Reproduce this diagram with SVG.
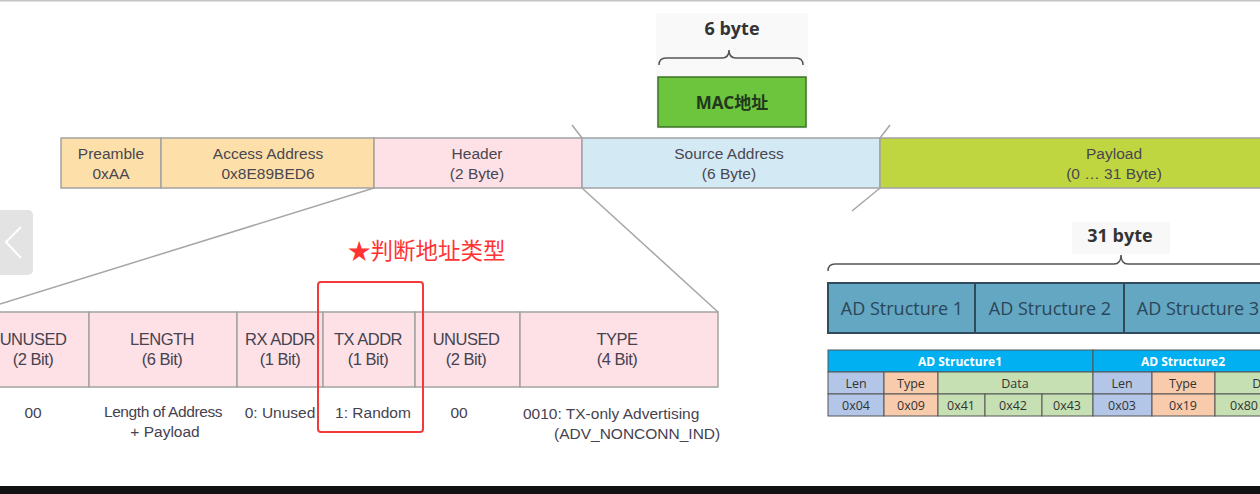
<svg xmlns="http://www.w3.org/2000/svg" width="1260" height="494" viewBox="0 0 1260 494">
<style>
.bar{stroke:#a3a3a3;stroke-width:1.5}
.t{font-family:"Liberation Sans",Arial,sans-serif;font-size:15.5px;fill:#4a4650;text-anchor:middle}
.h{font-family:"Liberation Sans",Arial,sans-serif;font-size:16.5px;fill:#46424f;text-anchor:middle;letter-spacing:-0.5px}
.v{font-family:"Liberation Sans",Arial,sans-serif;font-size:15.5px;fill:#46424f;text-anchor:middle}
.vs{font-family:"Liberation Sans",Arial,sans-serif;font-size:15.5px;fill:#46424f;text-anchor:start}
.pk{fill:#fde1e6}
.ln{stroke:#a6a6a6;stroke-width:1.5;fill:none}
.ad{fill:#63a7c3;stroke:#2f4a58;stroke-width:2}
.adt{font-family:"Open Sans","Noto Sans",sans-serif;font-size:18px;fill:#2b4657;text-anchor:middle}
.tb{font-family:"Open Sans","Noto Sans",sans-serif;font-size:12.5px;fill:#333;text-anchor:middle}
.tw{font-family:"Open Sans","Noto Sans",sans-serif;font-size:12px;font-weight:bold;fill:#ffffff;text-anchor:middle}
.cell{stroke:#555;stroke-width:1}
.br{stroke:#555;stroke-width:1.5;fill:none}
.bt{font-family:"Open Sans","Noto Sans",sans-serif;font-size:18px;font-weight:bold;fill:#333;text-anchor:middle}
</style>
<rect width="1260" height="494" fill="#ffffff"/>
<rect x="0" y="0" width="1260" height="1.5" fill="#c4c4c4"/>
<rect x="0" y="486" width="1260" height="8" fill="#111111"/>

<g id="connectors">
<path class="ln" d="M374,188 L0,304"/>
<path class="ln" d="M582,188 L718,312"/>
<path class="ln" d="M572,125 L582,138"/>
<path class="ln" d="M890,125 L880,138"/>
<path class="ln" d="M880,188 L852,211"/>
</g>

<g id="mac">
<rect x="656" y="13" width="152" height="116" fill="#f9f9f9"/>
<text class="bt" x="732" y="35">6 byte</text>
<path class="br" d="M659,65 Q659,58 666,58 L722,58 Q729,58 729,50 Q729,58 736,58 L796,58 Q803,58 803,65"/>
<rect x="658" y="77" width="148" height="50" fill="#6cc53c" stroke="#3d7329" stroke-width="1.5"/>
<text x="732" y="109" font-family="'Noto Sans','Noto Sans CJK SC',sans-serif" font-size="17" font-weight="bold" fill="#22381c" text-anchor="middle">MAC地址</text>
</g>

<g id="packet">
<rect class="bar" x="61" y="138" width="100" height="50" fill="#fde0a9"/>
<text class="t" x="111" y="159">Preamble</text><text class="t" x="111" y="179">0xAA</text>
<rect class="bar" x="161" y="138" width="213" height="50" fill="#fde0a9"/>
<text class="t" x="268" y="159">Access Address</text><text class="t" x="268" y="179">0x8E89BED6</text>
<rect class="bar" x="374" y="138" width="208" height="50" fill="#fde1e6"/>
<text class="t" x="477" y="159">Header</text><text class="t" x="477" y="179">(2 Byte)</text>
<rect class="bar" x="582" y="138" width="298" height="50" fill="#d3eaf5"/>
<text class="t" x="729" y="159">Source Address</text><text class="t" x="729" y="179">(6 Byte)</text>
<rect class="bar" x="880" y="138" width="390" height="50" fill="#bfd641"/>
<text class="t" x="1114" y="159">Payload</text><text class="t" x="1114" y="179">(0 … 31 Byte)</text>
</g>

<g id="nav">
<rect x="-6" y="210" width="39" height="65" rx="5" fill="#e3e3e3"/>
<path d="M21,227 L6,242 L21,258" stroke="#ffffff" stroke-width="2" fill="none"/>
</g>

<g id="header-bits">
<rect class="bar pk" x="-2" y="312" width="91" height="75"/>
<rect class="bar pk" x="89" y="312" width="148" height="75"/>
<rect class="bar pk" x="237" y="312" width="86" height="75"/>
<rect class="bar pk" x="323" y="312" width="92" height="75"/>
<rect class="bar pk" x="415" y="312" width="105" height="75"/>
<rect class="bar pk" x="520" y="312" width="198" height="75"/>
<text class="h" x="33" y="345">UNUSED</text><text class="h" x="33" y="365">(2 Bit)</text>
<text class="h" x="162" y="345">LENGTH</text><text class="h" x="162" y="365">(6 Bit)</text>
<text class="h" x="280" y="345">RX ADDR</text><text class="h" x="280" y="365">(1 Bit)</text>
<text class="h" x="368" y="345">TX ADDR</text><text class="h" x="368" y="365">(1 Bit)</text>
<text class="h" x="466" y="345">UNUSED</text><text class="h" x="466" y="365">(2 Bit)</text>
<text class="h" x="617" y="345">TYPE</text><text class="h" x="617" y="365">(4 Bit)</text>
<text class="v" x="33" y="418">00</text>
<text class="v" x="163" y="417" letter-spacing="-0.4">Length of Address</text>
<text class="v" x="165" y="437">+ Payload</text>
<text class="v" x="280" y="418">0: Unused</text>
<text class="v" x="373" y="418">1: Random</text>
<text class="v" x="459" y="418">00</text>
<text class="vs" x="523" y="419">0010: TX-only Advertising</text>
<text class="vs" x="554" y="439">(ADV_NONCONN_IND)</text>
</g>

<g id="highlight">
<text x="348" y="259" font-family="'Noto Sans CJK SC','Noto Sans',sans-serif" font-size="22.5" fill="#ff3333">★判断地址类型</text>
<rect x="318" y="282" width="105" height="150" rx="3" fill="none" stroke="#f23a3a" stroke-width="2"/>
</g>

<g id="ad-structures">
<rect x="1072" y="222" width="98" height="32" fill="#f8f8f8"/>
<text class="bt" x="1120" y="242">31 byte</text>
<path class="br" d="M828,271 Q828,264 835,264 L1114,264 Q1121,264 1121,255 Q1121,264 1128,264 L1270,264"/>
<rect class="ad" x="828" y="283" width="147" height="50"/>
<rect class="ad" x="975" y="283" width="149" height="50"/>
<rect class="ad" x="1124" y="283" width="150" height="50"/>
<text class="adt" x="902" y="315">AD Structure 1</text>
<text class="adt" x="1050" y="315">AD Structure 2</text>
<text class="adt" x="1198" y="315">AD Structure 3</text>
</g>

<g id="ad-table">
<rect class="cell" x="828" y="350" width="265" height="22" fill="#00b0f0"/>
<rect class="cell" x="1093" y="350" width="180" height="22" fill="#00b0f0"/>
<text class="tw" x="960" y="366">AD Structure1</text>
<text class="tw" x="1183" y="366">AD Structure2</text>
<rect class="cell" x="828" y="372" width="56" height="22" fill="#b4c6e7"/>
<rect class="cell" x="884" y="372" width="54" height="22" fill="#f8cbad"/>
<rect class="cell" x="938" y="372" width="155" height="22" fill="#c6e0b4"/>
<rect class="cell" x="1093" y="372" width="59" height="22" fill="#b4c6e7"/>
<rect class="cell" x="1152" y="372" width="63" height="22" fill="#f8cbad"/>
<rect class="cell" x="1215" y="372" width="60" height="22" fill="#c6e0b4"/>
<text class="tb" x="856" y="388">Len</text>
<text class="tb" x="911" y="388">Type</text>
<text class="tb" x="1015" y="388">Data</text>
<text class="tb" x="1122" y="388">Len</text>
<text class="tb" x="1183" y="388">Type</text>
<text class="tb" x="1266" y="388">Data</text>
<rect class="cell" x="828" y="394" width="56" height="22" fill="#b4c6e7"/>
<rect class="cell" x="884" y="394" width="54" height="22" fill="#f8cbad"/>
<rect class="cell" x="938" y="394" width="47" height="22" fill="#c6e0b4"/>
<rect class="cell" x="985" y="394" width="57" height="22" fill="#c6e0b4"/>
<rect class="cell" x="1042" y="394" width="51" height="22" fill="#c6e0b4"/>
<rect class="cell" x="1093" y="394" width="59" height="22" fill="#b4c6e7"/>
<rect class="cell" x="1152" y="394" width="63" height="22" fill="#f8cbad"/>
<rect class="cell" x="1215" y="394" width="60" height="22" fill="#c6e0b4"/>
<text class="tb" x="856" y="410">0x04</text>
<text class="tb" x="911" y="410">0x09</text>
<text class="tb" x="961" y="410">0x41</text>
<text class="tb" x="1013" y="410">0x42</text>
<text class="tb" x="1067" y="410">0x43</text>
<text class="tb" x="1122" y="410">0x03</text>
<text class="tb" x="1183" y="410">0x19</text>
<text class="tb" x="1244" y="410">0x80</text>
</g>
</svg>
